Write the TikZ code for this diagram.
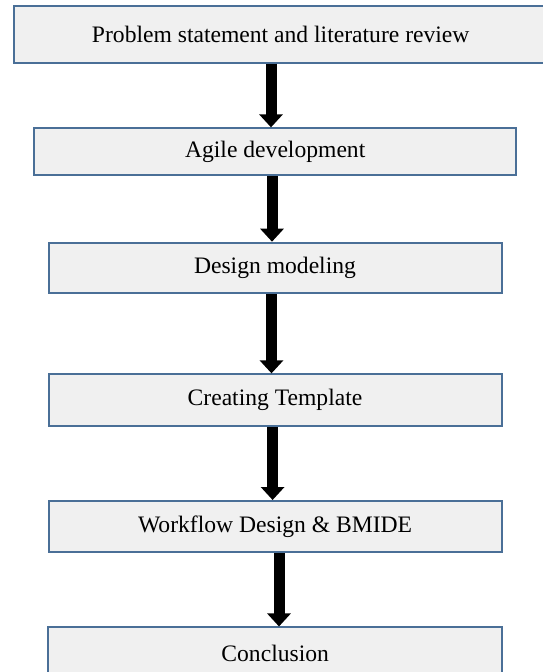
\documentclass[tikz,border=0pt]{standalone}
\usepackage{fontspec}
\setmainfont{Liberation Serif}
\usetikzlibrary{arrows.meta}
\definecolor{boxfill}{HTML}{F0F0F0}
\definecolor{boxline}{HTML}{4A6F97}
\begin{document}
\begin{tikzpicture}[x=1pt,y=-1pt,
  stage/.style={draw=boxline, line width=2pt, fill=boxfill, inner sep=0pt,
    font=\fontsize{23.6}{28}\selectfont, text=black},
  flow/.style={draw=black, line width=11pt,
    -{Triangle[width=23pt,length=13pt]}}]
\useasboundingbox (0,0) rectangle (543,672);
% process stages, top to bottom
\node[stage, minimum width=532.7pt, minimum height=57pt]   (b1) at (280.7,34.2)  {Problem statement and literature review};
\node[stage, minimum width=481.7pt, minimum height=46.7pt] (b2) at (275.2,151.7) {Agile development};
\node[stage, minimum width=453pt,   minimum height=50.6pt] (b3) at (275,268)     {Design modeling};
\node[stage, minimum width=453pt,   minimum height=51.7pt] (b4) at (275,400.2)   {Creating Template};
\node[stage, minimum width=452.8pt, minimum height=51pt]   (b5) at (275.1,526.5) {Workflow Design \& BMIDE};
\node[stage, minimum width=453.5pt, minimum height=51.5pt] (b6) at (275.2,653.2) {Conclusion};
% arrows between the stages
\draw[flow] ([xshift=-9.7pt]b1.south) -- ([xshift=-4.2pt]b2.north);
\draw[flow] ([xshift=-3.2pt]b2.south) -- ([xshift=-3pt]b3.north);
\draw[flow] ([xshift=-3.5pt]b3.south) -- ([xshift=-3.5pt]b4.north);
\draw[flow] ([xshift=-2.4pt]b4.south) -- ([xshift=-2.5pt]b5.north);
\draw[flow] ([xshift=3.9pt]b5.south) -- ([xshift=3.8pt]b6.north);
\end{tikzpicture}
\end{document}
